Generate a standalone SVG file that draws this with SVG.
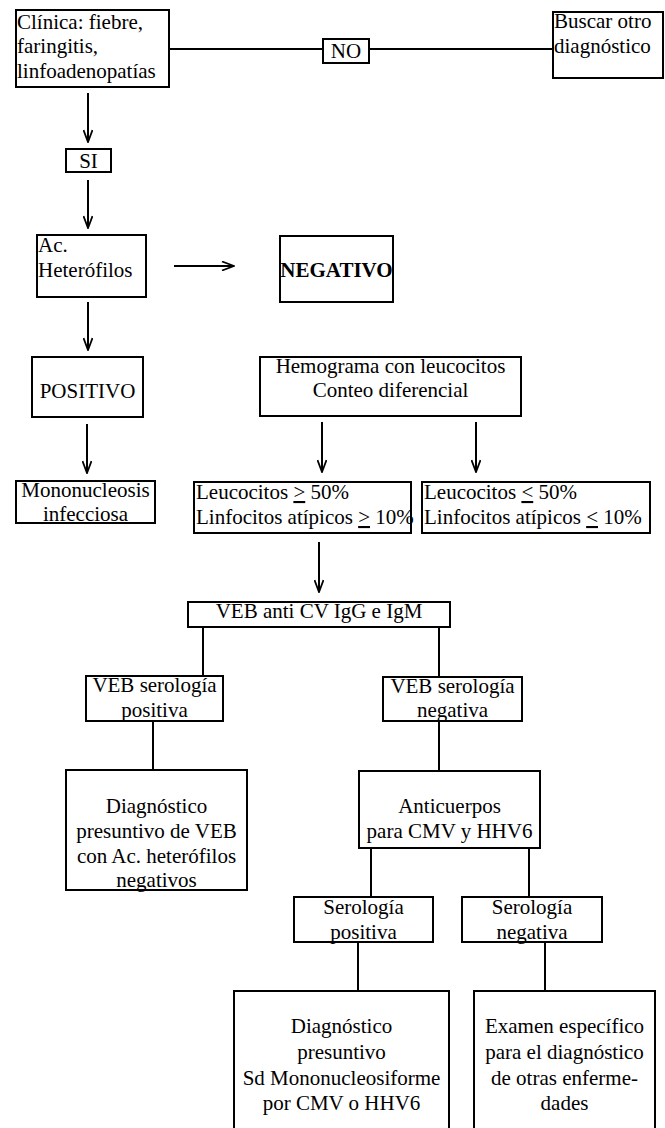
<svg xmlns="http://www.w3.org/2000/svg" width="665" height="1128" viewBox="0 0 665 1128">
<style>
rect{fill:#fff;stroke:#000;stroke-width:2}
text{font-size:21px;fill:#000}
.c{text-anchor:middle}
.b{font-weight:bold}
.u{text-decoration:underline}
#connectors line{stroke:#000;stroke-width:2;fill:none}
</style>
<defs>
<marker id="ah" markerUnits="userSpaceOnUse" viewBox="0 0 14 10" refX="13" refY="5" markerWidth="14" markerHeight="10" orient="auto">
<path d="M1,0.5 L13,5 L1,9.5" fill="none" stroke="#000" stroke-width="1.8"/>
</marker>
</defs>
<rect x="0" y="0" width="665" height="1128" style="stroke:none"/>
<g id="connectors">
<line x1="169" y1="49" x2="323" y2="49"/>
<line x1="369" y1="49" x2="553" y2="49"/>
<line x1="88" y1="93" x2="88" y2="142" marker-end="url(#ah)"/>
<line x1="88" y1="180" x2="88" y2="228" marker-end="url(#ah)"/>
<line x1="174" y1="266" x2="234" y2="266" marker-end="url(#ah)"/>
<line x1="88" y1="302" x2="88" y2="350" marker-end="url(#ah)"/>
<line x1="87" y1="424" x2="87" y2="473" marker-end="url(#ah)"/>
<line x1="322" y1="422" x2="322" y2="472" marker-end="url(#ah)"/>
<line x1="476" y1="422" x2="476" y2="472" marker-end="url(#ah)"/>
<line x1="319" y1="542" x2="319" y2="592" marker-end="url(#ah)"/>
<line x1="203" y1="627" x2="203" y2="676"/>
<line x1="439" y1="627" x2="439" y2="677"/>
<line x1="153" y1="721" x2="153" y2="770"/>
<line x1="439" y1="721" x2="439" y2="771"/>
<line x1="371" y1="848" x2="371" y2="897"/>
<line x1="529" y1="848" x2="529" y2="897"/>
<line x1="358" y1="942" x2="358" y2="991"/>
<line x1="545" y1="942" x2="545" y2="991"/>
</g>
<g font-family="'Liberation Serif', 'DejaVu Serif', serif">
<g id="clinica">
<rect x="16" y="10" width="153" height="77"/>
<text x="17" y="29">Clínica: fiebre,</text>
<text x="17" y="53">faringitis,</text>
<text x="17" y="78">linfoadenopatías</text>
</g>
<g id="no">
<rect x="323" y="39" width="46" height="24"/>
<text class="c" x="346" y="58">NO</text>
</g>
<g id="buscar">
<rect x="553" y="12" width="110" height="66"/>
<text x="554" y="28">Buscar otro</text>
<text x="554" y="53">diagnóstico</text>
</g>
<g id="si">
<rect x="66" y="149" width="45" height="23"/>
<text class="c" x="88.5" y="168">SI</text>
</g>
<g id="heterofilos">
<rect x="37" y="235" width="109" height="62"/>
<text x="38" y="252">Ac.</text>
<text x="38" y="277">Heterófilos</text>
</g>
<g id="negativo">
<rect x="280" y="236" width="113" height="66"/>
<text class="c b" x="336.5" y="277" font-size="19.5">NEGATIVO</text>
</g>
<g id="positivo">
<rect x="32" y="357" width="111" height="60"/>
<text class="c" x="87.5" y="398">POSITIVO</text>
</g>
<g id="hemograma">
<rect x="260" y="357" width="261" height="59"/>
<text class="c" x="390.5" y="373">Hemograma con leucocitos</text>
<text class="c" x="390.5" y="397">Conteo diferencial</text>
</g>
<g id="mononucleosis">
<rect x="16" y="481" width="139" height="42"/>
<text class="c" x="85.5" y="497">Mononucleosis</text>
<text class="c" x="85.5" y="521">infecciosa</text>
</g>
<g id="leucocitos-mayor">
<rect x="194" y="482" width="217" height="51"/>
<text x="196" y="499">Leucocitos <tspan class="u">&gt;</tspan> 50%</text>
<text x="196" y="524" font-size="20.5">Linfocitos atípicos <tspan class="u">&gt;</tspan> 10%</text>
</g>
<g id="leucocitos-menor">
<rect x="422" y="482" width="228" height="51"/>
<text x="424" y="499">Leucocitos <tspan class="u">&lt;</tspan> 50%</text>
<text x="424" y="524">Linfocitos atípicos <tspan class="u">&lt;</tspan> 10%</text>
</g>
<g id="veb-anti">
<rect x="188" y="602" width="262" height="25"/>
<text class="c" x="319" y="618">VEB anti CV IgG e IgM</text>
</g>
<g id="veb-positiva">
<rect x="86" y="676" width="137" height="45"/>
<text class="c" x="154.5" y="692">VEB serología</text>
<text class="c" x="154.5" y="717">positiva</text>
</g>
<g id="veb-negativa">
<rect x="383" y="677" width="139" height="44"/>
<text class="c" x="452.5" y="693">VEB serología</text>
<text class="c" x="452.5" y="717">negativa</text>
</g>
<g id="diag-veb">
<rect x="66" y="770" width="181" height="120"/>
<text class="c" x="156.5" y="813">Diagnóstico</text>
<text class="c" x="156.5" y="838">presuntivo de VEB</text>
<text class="c" x="156.5" y="863">con Ac. heterófilos</text>
<text class="c" x="156.5" y="887">negativos</text>
</g>
<g id="anticuerpos">
<rect x="359" y="771" width="181" height="77"/>
<text class="c" x="449.5" y="813">Anticuerpos</text>
<text class="c" x="449.5" y="838">para CMV y HHV6</text>
</g>
<g id="serologia-positiva">
<rect x="294" y="897" width="139" height="45"/>
<text class="c" x="363.5" y="914">Serología</text>
<text class="c" x="363.5" y="939">positiva</text>
</g>
<g id="serologia-negativa">
<rect x="462" y="897" width="140" height="45"/>
<text class="c" x="532" y="914">Serología</text>
<text class="c" x="532" y="939">negativa</text>
</g>
<g id="diag-sd">
<rect x="234" y="991" width="215" height="142"/>
<text class="c" x="341.5" y="1033">Diagnóstico</text>
<text class="c" x="341.5" y="1059">presuntivo</text>
<text class="c" x="341.5" y="1085">Sd Mononucleosiforme</text>
<text class="c" x="341.5" y="1110">por CMV o HHV6</text>
</g>
<g id="examen">
<rect x="474" y="991" width="181" height="142"/>
<text class="c" x="564.5" y="1033">Examen específico</text>
<text class="c" x="564.5" y="1059">para el diagnóstico</text>
<text class="c" x="564.5" y="1085">de otras enferme-</text>
<text class="c" x="564.5" y="1110">dades</text>
</g>
</g>
</svg>
